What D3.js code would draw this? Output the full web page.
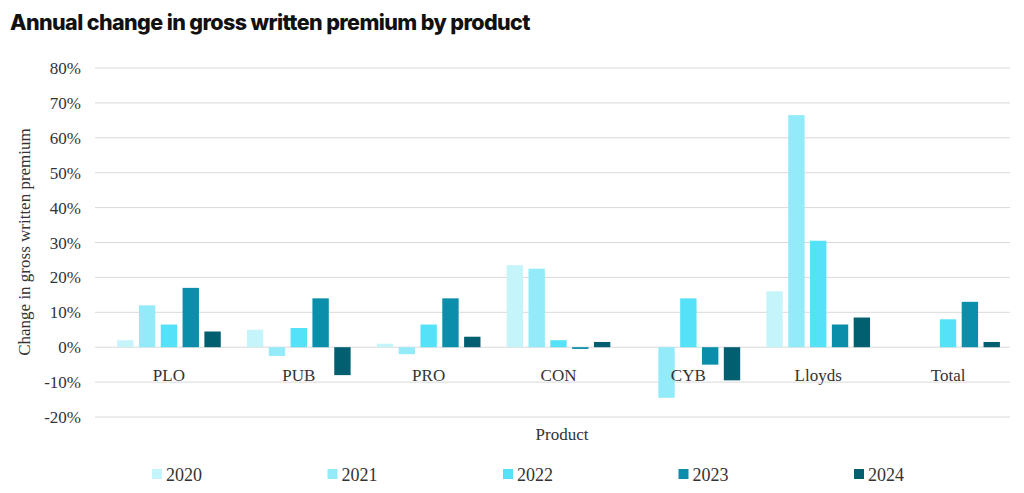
<!DOCTYPE html>
<html><head><meta charset="utf-8">
<script src="https://cdn.jsdelivr.net/npm/d3@7"></script>
<style>body{margin:0;background:#fff}</style>
</head><body><svg id="c" width="1024" height="493"></svg>
<script>
var categories = ['PLO', 'PUB', 'PRO', 'CON', 'CYB', 'Lloyds', 'Total'];
var years = ['2020', '2021', '2022', '2023', '2024'];
var colors = ['#c6f4fb', '#93ebfa', '#55e1f7', '#0a8ea9', '#015f70'];
var v2020 = [2, 5, 1, 23.5, 0, 16, 0];
var v2021 = [12, -2.5, -2, 22.5, -14.5, 66.5, 0];
var v2022 = [6.5, 5.5, 6.5, 2, 14, 30.5, 8];
var v2023 = [17, 14, 14, -0.5, -5, 6.5, 13];
var v2024 = [4.5, -8, 3, 1.5, -9.5, 8.5, 1.5];
var ticks = [-20, -10, 0, 10, 20, 30, 40, 50, 60, 70, 80];
var series = [v2020, v2021, v2022, v2023, v2024];

var svg = d3.select('#c');
var serif = 'Liberation Serif, serif';

svg.append('text').attr('x', 10).attr('y', 30)
  .style('font-family', 'Inter, sans-serif').style('font-weight', 800)
  .style('font-size', '21.5px').style('letter-spacing', '-0.6px').attr('fill', '#111')
  .text('Annual change in gross written premium by product');

var x = d3.scaleBand().domain(categories).range([104, 1013]);
var x1 = d3.scaleBand().domain(years).range([0, x.bandwidth()]).paddingInner(0.25).paddingOuter(0.6);
var y = d3.scaleLinear().domain([-20, 80]).range([417, 68]);

svg.append('g').selectAll('line').data(ticks).join('line')
  .attr('x1', 95).attr('x2', 1010)
  .attr('y1', function(d) { return y(d); }).attr('y2', function(d) { return y(d); })
  .attr('stroke', '#d9d9d9');

svg.append('g').selectAll('text').data(ticks).join('text')
  .attr('x', 81).attr('y', function(d) { return y(d) + 6; })
  .attr('text-anchor', 'end').style('font-family', serif).style('font-size', '17px').attr('fill', '#333')
  .text(function(d) { return d + '%'; });

series.forEach(function(vals, si) {
  svg.append('g').selectAll('rect').data(vals).join('rect')
    .attr('x', function(d, i) { return x(categories[i]) + x1(years[si]); })
    .attr('width', x1.bandwidth())
    .attr('y', function(d) { return y(Math.max(0, d)); })
    .attr('height', function(d) { return Math.abs(y(d) - y(0)); })
    .attr('fill', colors[si]);
});

svg.append('g').selectAll('text').data(categories).join('text')
  .attr('x', function(d) { return x(d) + x.bandwidth() / 2; }).attr('y', 381)
  .attr('text-anchor', 'middle').style('font-family', serif).style('font-size', '17px').attr('fill', '#333')
  .text(function(d) { return d; });

svg.append('text').attr('x', 562).attr('y', 440).attr('text-anchor', 'middle')
  .style('font-family', serif).style('font-size', '17px').attr('fill', '#333').text('Product');

svg.append('text').attr('transform', 'translate(30,242) rotate(-90)').attr('text-anchor', 'middle')
  .style('font-family', serif).style('font-size', '17px').attr('fill', '#333').text('Change in gross written premium');

var lg = svg.append('g').selectAll('g').data(years).join('g')
  .attr('transform', function(d, i) { return 'translate(' + (152 + i * 175.5) + ',469)'; });
lg.append('rect').attr('width', 10).attr('height', 10).attr('fill', function(d, i) { return colors[i]; });
lg.append('text').attr('x', 14).attr('y', 12).style('font-family', serif).style('font-size', '18px')
  .attr('fill', '#333').text(function(d) { return d; });
</script></body></html>
